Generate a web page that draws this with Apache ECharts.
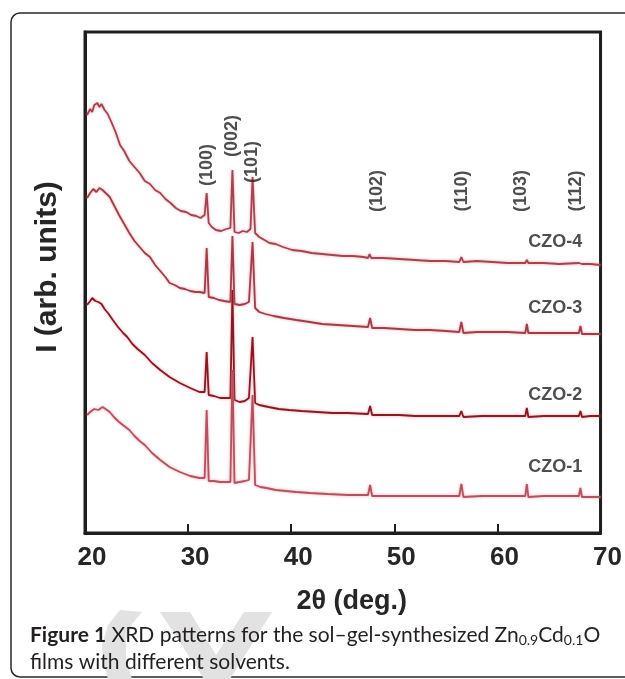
<!DOCTYPE html>
<html>
<head>
<meta charset="utf-8">
<script src="https://cdn.jsdelivr.net/npm/echarts@6/dist/echarts.min.js"></script>
<style>
  html, body { margin: 0; padding: 0; background: #fff; }
  #chart { width: 625px; height: 679px; }
</style>
</head>
<body>
<div id="chart"></div>
<script>
// XRD patterns, [2theta (deg), intensity (arb.)]
const czo4 = [
  [20.2, 418], [20.5, 424], [20.7, 421], [20.9, 428], [21.2, 430], [21.4, 426], [21.6, 429], [21.9, 423],
  [22.2, 419], [22.6, 410], [23.0, 400], [23.4, 388], [23.8, 382], [24.3, 372], [24.8, 366], [25.3, 360],
  [25.8, 352], [26.3, 349], [26.8, 343], [27.3, 340], [27.8, 334], [28.3, 330], [28.8, 325], [29.3, 322],
  [29.8, 321], [30.3, 318], [30.8, 317], [31.2, 315], [31.6, 318], [31.8, 340], [32.0, 310], [32.3, 306],
  [32.7, 303], [33.2, 302], [33.7, 304], [34.1, 305], [34.3, 363], [34.5, 301], [34.9, 300], [35.3, 302],
  [35.7, 301], [36.05, 304], [36.25, 356], [36.5, 300], [36.9, 296], [37.4, 293], [37.9, 290], [38.5, 289],
  [39.2, 286], [40.1, 283], [41.0, 282], [42.0, 280], [43.0, 279], [44.0, 278], [45.0, 277], [46.0, 277],
  [47.0, 276], [47.45, 275], [47.6, 279], [47.75, 275], [49.0, 275], [50.5, 274], [52.0, 273], [53.5, 272],
  [55.0, 272], [56.3, 271], [56.5, 276], [56.7, 271], [58.0, 272], [59.5, 271], [61.0, 270], [62.7, 270],
  [62.85, 273], [63.0, 270], [64.5, 270], [66.0, 269], [67.9, 270], [68.05, 272], [68.2, 269], [69.0, 269],
  [70.0, 268]
];
const czo3 = [
  [20.2, 335], [20.5, 340], [20.8, 344], [21.1, 341], [21.4, 345], [21.7, 343], [22.0, 340], [22.4, 336],
  [22.8, 328], [23.3, 318], [23.8, 309], [24.3, 300], [24.8, 292], [25.3, 286], [25.8, 280], [26.3, 276],
  [26.8, 268], [27.3, 262], [27.8, 256], [28.2, 250], [28.7, 248], [29.2, 245], [29.7, 244], [30.2, 242],
  [30.7, 241], [31.1, 241], [31.6, 240], [31.8, 285], [32.0, 236], [32.5, 235], [33.0, 233], [33.5, 232],
  [34.1, 231], [34.3, 297], [34.5, 229], [35.0, 228], [35.5, 229], [35.9, 231], [36.05, 232], [36.25, 291],
  [36.5, 225], [36.9, 221], [37.5, 219], [38.3, 217], [39.3, 215], [40.5, 213], [41.8, 211], [43.0, 209],
  [44.5, 208], [46.0, 207], [47.45, 206], [47.65, 215], [47.85, 205], [49.0, 205], [50.5, 204], [52.0, 203],
  [53.5, 203], [55.0, 202], [56.3, 201], [56.5, 211], [56.7, 200], [58.0, 201], [59.5, 201], [61.0, 201],
  [62.7, 200], [62.85, 209], [63.0, 200], [64.5, 200], [66.0, 200], [67.9, 200], [68.05, 207], [68.2, 199],
  [69.0, 199], [70.0, 199]
];
const czo2 = [
  [20.2, 228], [20.5, 232], [20.7, 235], [21.0, 232], [21.3, 231], [21.6, 229], [21.9, 224], [22.3, 219],
  [22.7, 213], [23.2, 206], [23.7, 200], [24.1, 196], [24.6, 189], [25.1, 184], [25.8, 178], [26.5, 170],
  [27.3, 163], [28.2, 156], [29.2, 150], [30.2, 145], [31.1, 141], [31.6, 141], [31.8, 181], [32.0, 138],
  [32.5, 137], [33.1, 135], [33.6, 135], [34.1, 135], [34.3, 243], [34.5, 133], [35.0, 131], [35.5, 132],
  [35.9, 135], [36.05, 136], [36.25, 196], [36.5, 130], [36.9, 128], [37.8, 126], [38.8, 124], [39.8, 123],
  [41.0, 122], [42.5, 121], [44.0, 120], [45.5, 120], [47.45, 119], [47.65, 127], [47.85, 118], [49.0, 118],
  [50.5, 118], [52.0, 117], [54.0, 117], [56.3, 117], [56.5, 122], [56.7, 116], [58.5, 117], [60.5, 117],
  [62.7, 117], [62.85, 125], [63.0, 116], [64.5, 117], [66.0, 117], [67.9, 117], [68.05, 122], [68.2, 116],
  [69.0, 117], [70.0, 117]
];
const czo1 = [
  [20.2, 118], [20.5, 121], [20.9, 124], [21.3, 123], [21.7, 126], [22.0, 124], [22.4, 121], [22.8, 116],
  [23.3, 111], [23.8, 107], [24.3, 103], [24.8, 97], [25.3, 92], [25.8, 88], [26.5, 80], [27.3, 73],
  [28.2, 66], [29.2, 61], [30.2, 57], [31.1, 55], [31.6, 55], [31.8, 123], [32.0, 52], [32.5, 52],
  [33.1, 51], [33.6, 51], [34.1, 51], [34.3, 163], [34.5, 50], [35.0, 51], [35.5, 52], [35.9, 53],
  [36.05, 53], [36.25, 138], [36.5, 48], [37.0, 46], [37.6, 45], [38.5, 43], [39.5, 42], [40.5, 41],
  [41.8, 40], [43.5, 39], [45.5, 38], [47.45, 38], [47.65, 48], [47.85, 37], [49.5, 37], [51.5, 37],
  [53.5, 37], [55.5, 37], [56.3, 37], [56.5, 49], [56.7, 36], [58.5, 37], [60.5, 37], [62.7, 37],
  [62.85, 49], [63.0, 36], [64.5, 37], [66.0, 37], [67.9, 37], [68.05, 45], [68.2, 36], [69.0, 36],
  [70.0, 36]
];

const sampleNames = ['CZO-4', 'CZO-3', 'CZO-2', 'CZO-1'];
const sampleColors = ['#a5434f', '#a33c48', '#8c1822', '#b9505f'];
const sampleLabelX = 65.6;
const sampleLabelY = [291, 225, 138, 66];

const peakNames = ['(100)', '(002)', '(101)', '(102)', '(110)', '(103)', '(112)'];
const peakPos = [31.8, 34.3, 36.2, 48.3, 56.6, 62.3, 67.6];
const peakLabelY = [368, 397, 371, 342, 342, 342, 342];

const xTicks = { min: 20, max: 70, step: 10 };

const BOLD = '"Liberation Sans", Arial, sans-serif';
const CAPTION = 'Lato, "Open Sans", sans-serif';

const chart = echarts.init(document.getElementById('chart'), null, { renderer: 'canvas' });

const traces = [czo4, czo3, czo2, czo1].map((d, i) => ({
  name: sampleNames[i],
  type: 'line',
  data: d,
  showSymbol: false,
  lineStyle: {
    color: sampleColors[i], width: 1.8,
    shadowColor: 'rgba(215,120,135,0.7)', shadowBlur: 3
  },
  z: 3
}));

const option = {
  animation: false,
  backgroundColor: '#fff',
  grid: {
    left: 85, right: 23, top: 32, bottom: 146,
    show: true, borderColor: '#1e1e1e', borderWidth: 3, backgroundColor: 'transparent'
  },
  xAxis: {
    type: 'value',
    min: xTicks.min, max: xTicks.max, interval: xTicks.step,
    axisLine: { show: true, lineStyle: { color: '#1e1e1e', width: 3 } },
    axisTick: { show: true, inside: true, length: 9, lineStyle: { color: '#1e1e1e', width: 2 } },
    splitLine: { show: false },
    axisLabel: {
      margin: 12,
      color: '#262626',
      fontFamily: BOLD, fontWeight: 'bold', fontSize: 26,
      padding: [0, 0, 0, 14]
    },
    name: '2θ (deg.)',
    nameLocation: 'middle',
    nameGap: 55,
    nameTextStyle: {
      color: '#262626', fontFamily: BOLD, fontWeight: 'bold', fontSize: 27,
      padding: [0, 0, 0, 18]
    }
  },
  yAxis: {
    type: 'value',
    min: 0, max: 501,
    axisLine: { show: true, lineStyle: { color: '#1e1e1e', width: 3 } },
    axisTick: { show: false },
    axisLabel: { show: false },
    splitLine: { show: false }
  },
  series: [
    ...traces,
    {
      name: 'peaks',
      type: 'scatter',
      silent: true,
      symbolSize: 0,
      data: peakPos.map((p, i) => [p, peakLabelY[i], peakNames[i]]),
      label: {
        show: true,
        position: 'inside',
        rotate: 90,
        formatter: (p) => p.data[2],
        color: '#222',
        fontFamily: BOLD, fontWeight: 'bold', fontSize: 18
      },
      z: 5
    },
    {
      name: 'samples',
      type: 'scatter',
      silent: true,
      symbolSize: 0,
      data: sampleLabelY.map((y, i) => [sampleLabelX, y, sampleNames[i]]),
      label: {
        show: true,
        position: 'inside',
        formatter: (p) => p.data[2],
        color: '#222',
        fontFamily: BOLD, fontWeight: 'bold', fontSize: 18
      },
      z: 5
    }
  ],
  graphic: [
    {
      type: 'rect',
      shape: { x: 11, y: 13, width: 640, height: 664, r: 9 },
      style: { fill: 'none', stroke: '#2a2a2a', lineWidth: 1.5 },
      silent: true, z: 0
    },
    // faint publisher watermark behind the caption
    {
      type: 'polygon',
      silent: true, z: 0,
      shape: { points: [[120, 610], [108, 625], [102, 645], [104, 665], [108, 679], [132, 679], [126, 660], [126, 640], [132, 624], [142, 612]] },
      style: { fill: '#e2e2e2' }
    },
    {
      type: 'polygon',
      silent: true, z: 0,
      shape: { points: [[160, 612], [190, 612], [216, 655], [244, 612], [272, 612], [230, 679], [204, 679]] },
      style: { fill: '#e2e2e2' }
    },
    {
      type: 'text',
      x: 48, y: 267,
      rotation: Math.PI / 2,
      style: {
        text: 'I (arb. units)',
        fill: '#262626',
        font: 'bold 30px ' + BOLD,
        align: 'center', verticalAlign: 'middle'
      }
    },
    {
      type: 'text',
      x: 30, y: 635, z: 10,
      style: {
        text: '{b|Figure 1} XRD patterns for the sol–gel-synthesized Zn{s|0.9}Cd{s|0.1}O',
        fill: '#231f20',
        font: '21px ' + CAPTION,
        lineHeight: 25,
        verticalAlign: 'middle',
        rich: {
          b: { font: 'bold 21px ' + CAPTION, fill: '#231f20', lineHeight: 25 },
          s: { font: '14px ' + CAPTION, fill: '#231f20', lineHeight: 14, verticalAlign: 'bottom' }
        }
      }
    },
    {
      type: 'text',
      x: 30, y: 662, z: 10,
      style: {
        text: 'films with different solvents.',
        fill: '#231f20',
        font: '21px ' + CAPTION,
        verticalAlign: 'middle'
      }
    }
  ]
};

chart.setOption(option);
</script>
</body>
</html>
